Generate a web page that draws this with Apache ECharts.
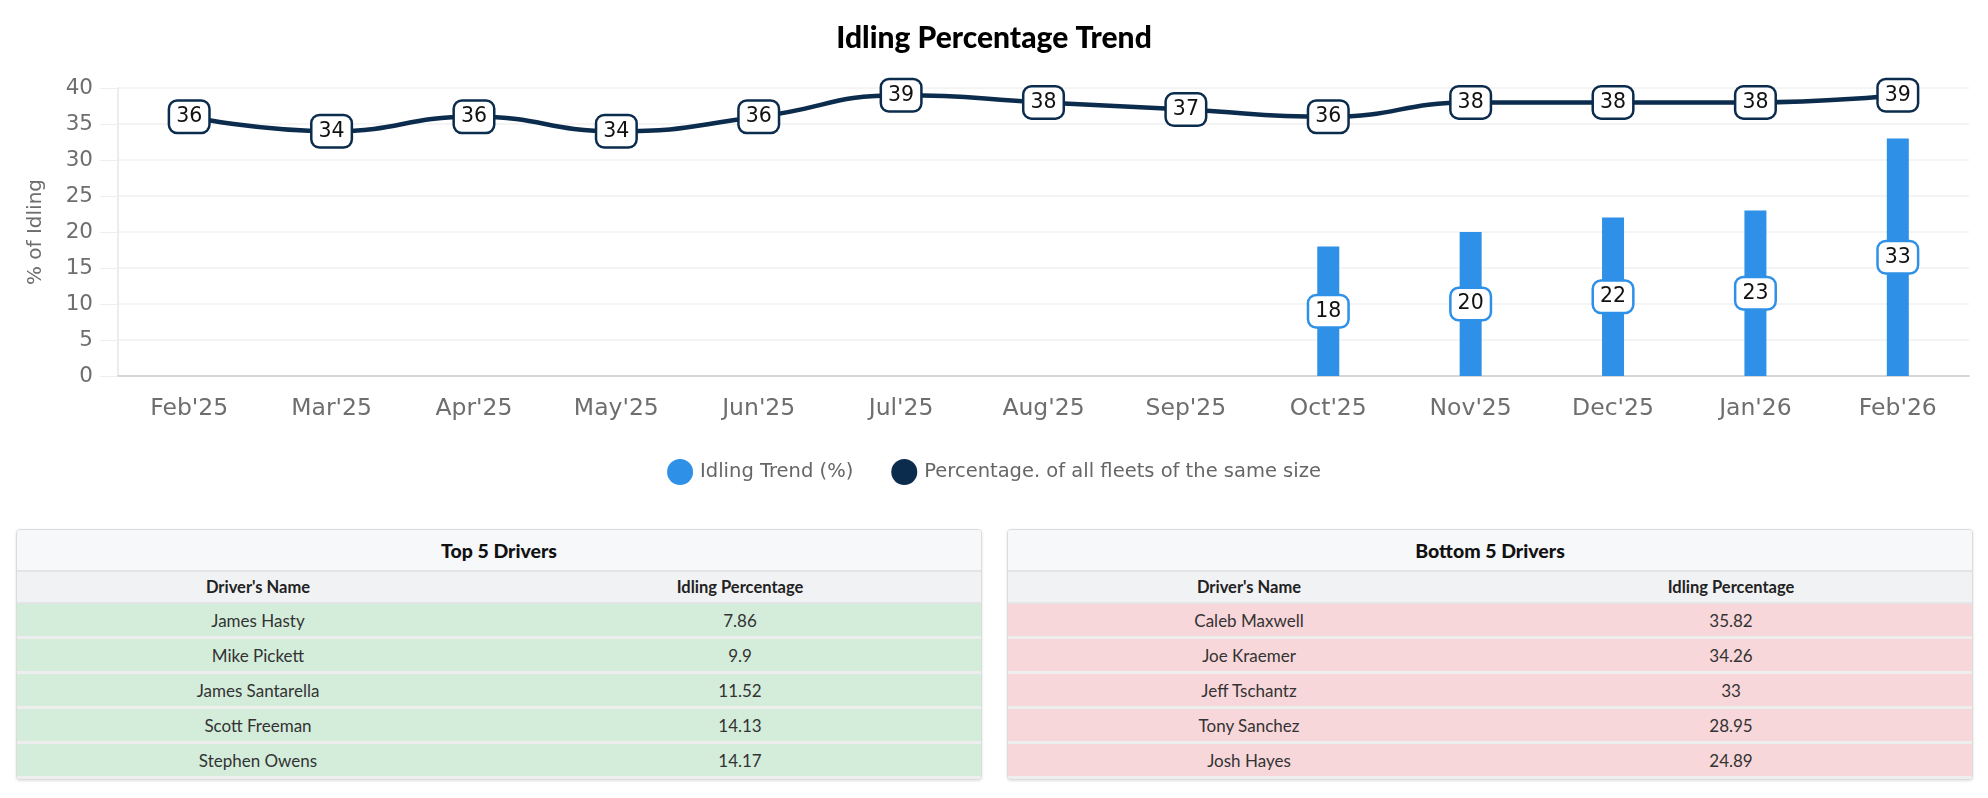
<!DOCTYPE html>
<html>
<head>
<meta charset="utf-8">
<title>Idling Percentage Trend</title>
<script src="https://cdn.jsdelivr.net/npm/echarts@6/dist/echarts.min.js"></script>
<style>
  html, body { margin: 0; padding: 0; background: #fff; }
  #chart { position: absolute; left: 0; top: 0; width: 1988px; height: 520px; }
  .panel {
    position: absolute; top: 529px; width: 964px; height: 249px;
    border: 1px solid #dcdcdc; border-radius: 4px; overflow: hidden;
    box-shadow: 0 1px 3px rgba(0,0,0,0.12); background: #fff;
    font-family: Lato, "Open Sans", sans-serif;
  }
  .panel table { width: 100%; border-collapse: collapse; table-layout: fixed; }
  .panel th, .panel td { padding: 0; }
  .panel th.caption {
    height: 40px; font-size: 19.5px; font-weight: 900; color: #111;
    background: #f7f8fa; border-bottom: 2px solid #e4e5e7;
  }
  .panel th.head {
    height: 30px; font-size: 16.5px; font-weight: bold; color: #222;
    background: #f1f2f4; border-bottom: 2px solid #e4e5e7;
  }
  .panel td {
    height: 32px; font-size: 17px; color: #333; text-align: center;
    border-bottom: 3px solid #eeeeee;
  }
  .good td { background: #d4eddb; }
  .bad td { background: #f8d7da; }
</style>
</head>
<body>
<div id="chart"></div>
<div class="panel" id="topPanel" style="left:16px;"></div>
<div class="panel" id="bottomPanel" style="left:1007px;"></div>
<script>
  var months = ["Feb'25", "Mar'25", "Apr'25", "May'25", "Jun'25", "Jul'25", "Aug'25",
                "Sep'25", "Oct'25", "Nov'25", "Dec'25", "Jan'26", "Feb'26"];
  var idlingTrend = [null, null, null, null, null, null, null, null, 18, 20, 22, 23, 33];
  var fleetPercentage = [36, 34, 36, 34, 36, 39, 38, 37, 36, 38, 38, 38, 39];

  var topDriverNames = ['James Hasty', 'Mike Pickett', 'James Santarella', 'Scott Freeman', 'Stephen Owens'];
  var topDriverValues = [7.86, 9.9, 11.52, 14.13, 14.17];
  var bottomDriverNames = ['Caleb Maxwell', 'Joe Kraemer', 'Jeff Tschantz', 'Tony Sanchez', 'Josh Hayes'];
  var bottomDriverValues = [35.82, 34.26, 33, 28.95, 24.89];

  var barColor = '#2f90e7';
  var lineColor = '#0b2c4d';
  var chartFont = '"DejaVu Sans", "Liberation Sans", sans-serif';

  function boxLabel(border) {
    return {
      show: true,
      position: 'inside',
      backgroundColor: '#fff',
      borderColor: border,
      borderWidth: 2.5,
      borderRadius: 7,
      padding: [5, 6, 4, 6],
      fontFamily: chartFont,
      fontSize: 20.5,
      color: '#111'
    };
  }

  var myChart = echarts.init(document.getElementById('chart'));
  var option = {
    animation: false,
    title: {
      text: 'Idling Percentage Trend',
      left: 'center',
      top: 18,
      textStyle: { fontFamily: 'Lato, sans-serif', fontWeight: 900, fontSize: 30, color: '#000' }
    },
    legend: {
      top: 454,
      left: 'center',
      icon: 'circle',
      itemWidth: 30,
      itemHeight: 26,
      itemGap: 38,
      textStyle: { fontFamily: chartFont, fontSize: 19.5, color: '#666' },
      data: ['Idling Trend (%)', 'Percentage. of all fleets of the same size']
    },
    grid: { left: 118, right: 19, top: 88, bottom: 144 },
    xAxis: {
      type: 'category',
      data: months,
      axisTick: { show: false },
      axisLine: { lineStyle: { color: '#cccccc', width: 1.5 } },
      axisLabel: { margin: 21, fontFamily: chartFont, fontSize: 23.5, color: '#6e6e6e' }
    },
    yAxis: {
      type: 'value',
      min: 0,
      max: 40,
      interval: 5,
      name: '% of Idling',
      nameLocation: 'middle',
      nameGap: 72,
      nameTextStyle: { fontFamily: chartFont, fontSize: 20, color: '#6e6e6e' },
      axisLine: { show: true, lineStyle: { color: '#e6e6e6', width: 1.5 } },
      axisTick: { show: true, length: 18, lineStyle: { color: '#eeeeee' } },
      axisLabel: { margin: 25, fontFamily: chartFont, fontSize: 21.5, color: '#6e6e6e' },
      splitLine: { lineStyle: { color: '#f1f1f1', width: 1.5 } }
    },
    series: [
      {
        name: 'Idling Trend (%)',
        type: 'bar',
        barWidth: 22,
        data: idlingTrend,
        itemStyle: { color: barColor },
        label: boxLabel(barColor),
        z: 2
      },
      {
        name: 'Percentage. of all fleets of the same size',
        type: 'line',
        smooth: true,
        data: fleetPercentage,
        symbol: 'circle',
        symbolSize: 2,
        itemStyle: { color: lineColor },
        lineStyle: { color: lineColor, width: 4.5 },
        label: boxLabel(lineColor),
        z: 3
      }
    ]
  };
  myChart.setOption(option);

  function buildTable(id, caption, rowClass, names, values) {
    var html = '<table><tr><th class="caption" colspan="2">' + caption + '</th></tr>';
    html += '<tr><th class="head">Driver\'s Name</th><th class="head">Idling Percentage</th></tr>';
    for (var i = 0; i < names.length; i++) {
      html += '<tr class="' + rowClass + '"><td>' + names[i] + '</td><td>' + values[i] + '</td></tr>';
    }
    html += '</table>';
    document.getElementById(id).innerHTML = html;
  }
  buildTable('topPanel', 'Top 5 Drivers', 'good', topDriverNames, topDriverValues);
  buildTable('bottomPanel', 'Bottom 5 Drivers', 'bad', bottomDriverNames, bottomDriverValues);
</script>
</body>
</html>
